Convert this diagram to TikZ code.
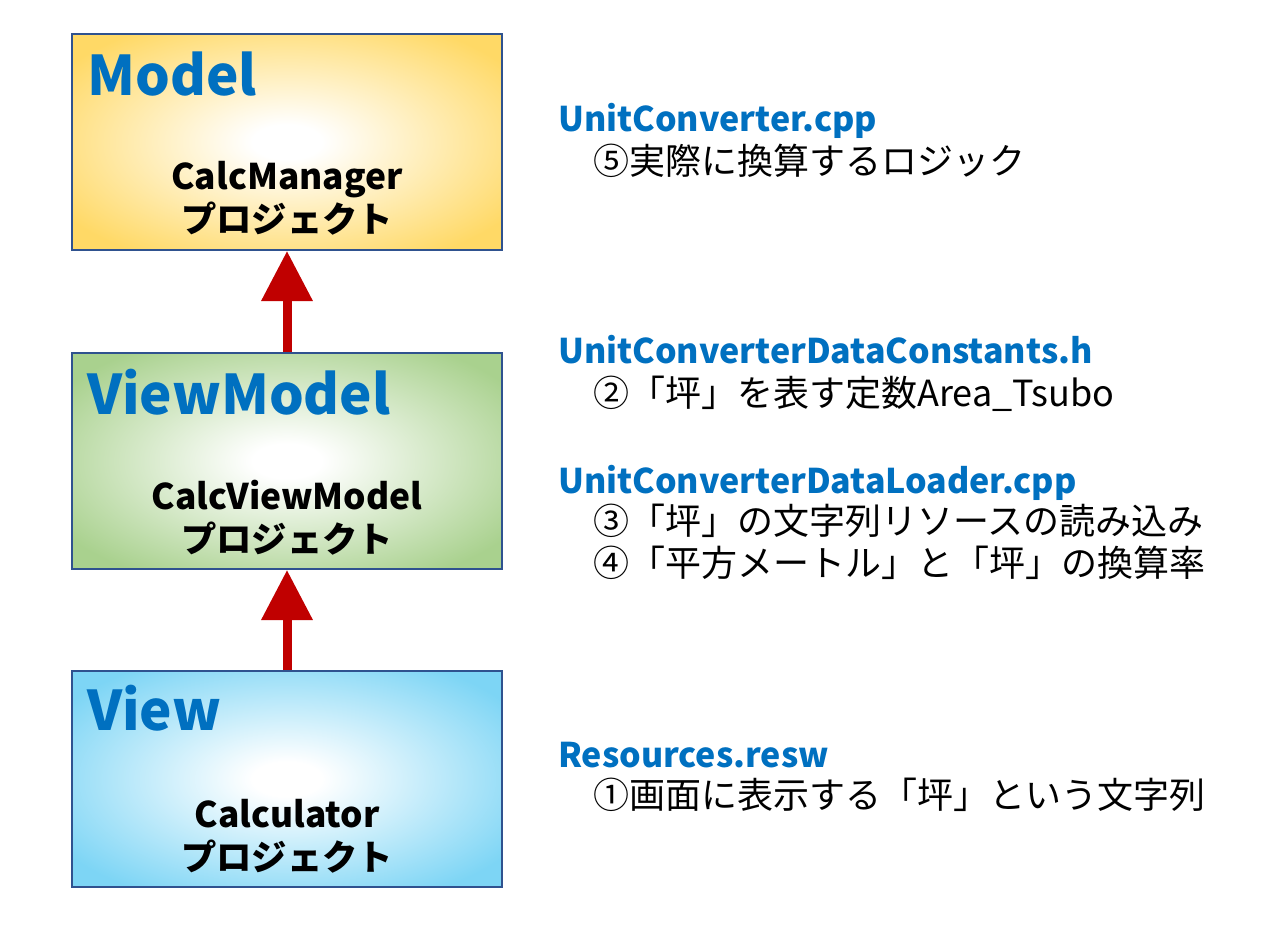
\documentclass[tikz,border=0pt]{standalone}
\usepackage{fontspec}
\setmainfont{Noto Sans CJK JP}
\usepackage{xcolor}
\usetikzlibrary{arrows.meta, positioning}

\definecolor{titleblue}{HTML}{0070C0}
\definecolor{edgeblue}{HTML}{2F528F}
\definecolor{arrowred}{HTML}{C00000}
\definecolor{modelfill}{HTML}{FFD966}
\definecolor{vmfill}{HTML}{A9D18E}
\definecolor{viewfill}{HTML}{7DD5F5}
\colorlet{shadeouter}{modelfill}
\pgfdeclareradialshading[shadeouter]{boxshade}{\pgfpointorigin}{color(0bp)=(white); color(4bp)=(white); color(31bp)=(shadeouter); color(50bp)=(shadeouter)}

\begin{document}
\begin{tikzpicture}[
        x=0.75pt, y=-0.75pt,
        box/.style={rectangle, draw=edgeblue, line width=1.5pt, minimum width=322.5pt, minimum height=162pt, inner sep=0pt},
        shadebox/.style={/utils/exec={\colorlet{shadeouter}{#1}}, shading=boxshade},
        title/.style={anchor=base west, inner sep=0pt, text=titleblue, font=\bfseries\fontsize{41}{50}\selectfont},
        proj/.style={align=center, inner sep=0pt, font=\bfseries\fontsize{26.5}{32.5}\selectfont},
        file/.style={anchor=base west, inner sep=0pt, text=titleblue, font=\bfseries\fontsize{25.5}{30}\selectfont},
        note/.style={anchor=west, inner sep=0pt, font=\fontsize{27}{32}\selectfont},
        uparrow/.style={arrowred, line width=6.75pt, -{Triangle[width=37pt, length=37.5pt]}}
    ]
        \useasboundingbox (0,0) rectangle (1280,928);
        \fill[white] (0,0) rectangle (1280,928);

        % Boxes
        \node[box, shadebox=modelfill] (model) at (287,142) {};
        \node[box, shadebox=vmfill] (vm) at (287,461) {};
        \node[box, shadebox=viewfill] (view) at (287,779) {};

        \node[title] (modeltitle) at ([shift={(16,62)}]model.north west) {Model};
        \node[title] (vmtitle) at ([shift={(16,62)}]vm.north west) {ViewModel};
        \node[title] (viewtitle) at ([shift={(16,60)}]view.north west) {View};

        \node[proj] (modelproj) at ([shift={(0,165)}]model.north) {CalcManager\\プロジェクト};
        \node[proj] (vmproj) at ([shift={(0,166)}]vm.north) {CalcViewModel\\プロジェクト};
        \node[proj] (viewproj) at ([shift={(0,166)}]view.north) {Calculator\\プロジェクト};

        % Files
        \node[file] (conv) at (558,131) {UnitConverter.cpp};
        \node[note] (conv5) at (593,161) {⑤実際に換算するロジック};
        \node[file] (consts) at (558,363) {UnitConverterDataConstants.h};
        \node[note] (consts2) at (593,394) {②「坪」を表す定数Area\_Tsubo};
        \node[file] (loader) at (558,493) {UnitConverterDataLoader.cpp};
        \node[note] (loader3) at (593,521) {③「坪」の文字列リソースの読み込み};
        \node[note] (loader4) at (593,563) {④「平方メートル」と「坪」の換算率};
        \node[file] (resw) at (558,767) {Resources.resw};
        \node[note] (resw1) at (593,795) {①画面に表示する「坪」という文字列};

        % Arrows
        \draw[uparrow] (vm.north) -- (model.south);
        \draw[uparrow] (view.north) -- (vm.south);
    \end{tikzpicture}
\end{document}
